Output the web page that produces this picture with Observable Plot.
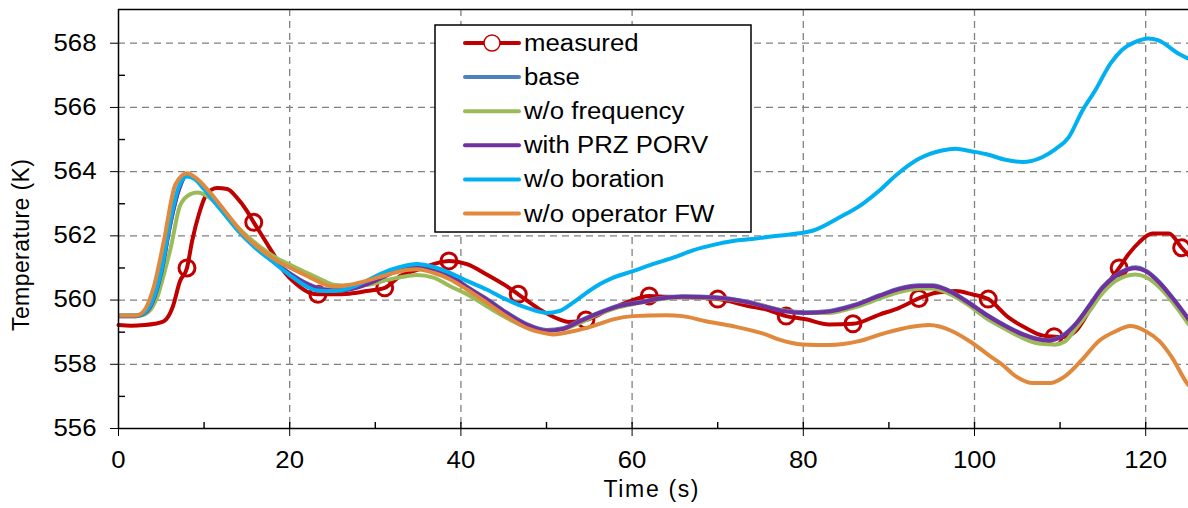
<!DOCTYPE html>
<html><head><meta charset="utf-8">
<script src="https://cdn.jsdelivr.net/npm/d3@7"></script>
<script src="https://cdn.jsdelivr.net/npm/@observablehq/plot@0.6"></script>
<style>html,body{margin:0;padding:0;background:#fff;}#chart{width:1188px;height:508px;}</style>
</head><body><div id="chart"></div>
<script>
// ---- data: [time (s), temperature (K)] ----
const measured = [[0,559.22],[1.5,559.2],[3,559.22],[4.2,559.26],[5.3,559.34],[6.3,559.76],[7.2,560.6],[8.0,561.0],[8.6,561.84],[9.4,562.68],[10.3,563.3],[11.5,563.49],[12.7,563.46],[13.8,563.2],[15.0,562.78],[15.8,562.42],[16.9,561.95],[18.1,561.43],[19.3,560.9],[20.8,560.49],[22.4,560.22],[23.3,560.18],[25.1,560.18],[27,560.2],[29.0,560.28],[31.1,560.38],[32.9,560.75],[34.8,560.93],[36.8,561.12],[38.6,561.22],[40.7,561.12],[43.0,560.8],[45.3,560.44],[46.7,560.18],[49.2,559.71],[51.5,559.4],[52.6,559.32],[54.6,559.38],[57.0,559.66],[59.3,559.92],[62.0,560.13],[64.0,560.1],[67.9,560.07],[70.0,560.03],[73.7,559.81],[75.6,559.71],[78.0,559.5],[80.3,559.4],[83.0,559.24],[85.8,559.26],[88.9,559.55],[91.2,559.76],[93.5,560.05],[95.5,560.23],[97.8,560.28],[99.7,560.18],[101.6,560.03],[104.0,559.45],[106.0,559.13],[107.9,558.9],[109.3,558.86],[110.3,558.85],[111.8,559.03],[113.4,559.66],[114.9,560.28],[116.9,561.0],[118.0,561.43],[119.2,561.79],[120.8,562.07],[122.7,562.07],[124.2,561.63],[125,561.4]];
const measuredMarkerTimes = [8.0,15.8,23.3,31.1,38.6,46.7,54.6,62.0,70.0,78.0,85.8,93.5,101.6,109.3,116.9,124.2];
const measuredMarkerValues = [561.0,562.42,560.18,560.38,561.22,560.18,559.38,560.13,560.03,559.5,559.26,560.05,560.03,558.86,561.0,561.63];
const base = [[0,559.52],[2,559.52],[3,559.6],[4,559.97],[5,560.85],[6,562.3],[7,563.4],[8,563.9],[9,563.8],[10,563.5],[12,562.84],[14,562.2],[16,561.68],[18,561.24],[20,560.84],[22,560.52],[24,560.34],[26,560.32],[28,560.42],[30,560.62],[32,560.87],[34,560.99],[35,561.02],[37,560.95],[39,560.74],[40.7,560.42],[43,560.04],[45.3,559.62],[47.7,559.25],[50,559.07],[51.9,559.12],[53.9,559.36],[56.2,559.62],[58.5,559.83],[60.9,559.94],[63.2,560.06],[65.9,560.12],[69.8,560.09],[73.7,559.94],[77.6,559.68],[80.3,559.62],[83,559.66],[85.7,559.83],[88.9,560.15],[91.2,560.36],[93.5,560.46],[95.1,560.46],[96.6,560.35],[99,559.99],[101.3,559.57],[103.6,559.21],[105.6,558.95],[107.5,558.79],[108.7,558.76],[110.3,558.9],[111.8,559.26],[113.4,559.83],[114.9,560.39],[116.5,560.77],[118,560.98],[118.8,561.02],[120,560.92],[121.6,560.56],[123.1,560.09],[125,559.42]];
const woFrequency = [[0,559.5],[2,559.5],[3,559.55],[4,559.8],[4.5,560.07],[5.3,560.8],[6.1,561.63],[7.2,562.95],[8.4,563.3],[9.2,563.35],[10.3,563.25],[12.7,562.62],[14.6,562.1],[16.6,561.65],[18.5,561.3],[20.4,561.05],[22.4,560.8],[24,560.6],[25.1,560.48],[27,560.45],[29,560.47],[31,560.6],[32.9,560.71],[34.8,560.78],[36.8,560.7],[38.7,560.44],[40.7,560.18],[43.0,559.81],[45.3,559.45],[47.7,559.15],[50,559.05],[52,559.1],[54,559.3],[56,559.55],[58.5,559.78],[61,559.92],[63,560.02],[66,560.08],[70,560.05],[74,559.9],[77.5,559.68],[80,559.6],[83,559.6],[85.7,559.75],[89,560.05],[91.2,560.25],[93.5,560.35],[95,560.36],[96.6,560.25],[99,559.9],[101.3,559.45],[103.6,559.1],[105.6,558.82],[107.5,558.65],[109.5,558.62],[110.5,558.7],[111.8,559.1],[113.4,559.65],[114.9,560.2],[116.5,560.6],[118.8,560.8],[120,560.72],[121.6,560.4],[123.1,559.95],[125,559.25]];
const withPrzPorv = [[0,559.5],[2,559.5],[3,559.58],[4,559.95],[5,560.85],[6,562.3],[7,563.4],[8,563.88],[9,563.78],[10,563.48],[12,562.82],[14,562.18],[16,561.65],[18,561.22],[20,560.82],[22,560.5],[24,560.32],[26,560.3],[28,560.4],[30,560.6],[32,560.85],[34,560.97],[35,561.0],[37,560.93],[39,560.72],[40.7,560.4],[43,560.02],[45.3,559.6],[47.7,559.23],[50,559.05],[51.9,559.1],[53.9,559.34],[56.2,559.6],[58.5,559.81],[60.9,559.92],[63.2,560.04],[65.9,560.1],[69.8,560.07],[73.7,559.92],[77.6,559.66],[80.3,559.6],[83,559.64],[85.7,559.81],[88.9,560.13],[91.2,560.34],[93.5,560.44],[95.1,560.44],[96.6,560.33],[99,559.97],[101.3,559.55],[103.6,559.19],[105.6,558.93],[107.5,558.77],[108.7,558.74],[110.3,558.88],[111.8,559.24],[113.4,559.81],[114.9,560.37],[116.5,560.75],[118,560.96],[118.8,560.99],[120,560.9],[121.6,560.54],[123.1,560.07],[125,559.4]];
const woBoration = [[0,559.52],[2,559.52],[3,559.6],[4,560.0],[5,560.9],[6,562.4],[7,563.5],[8,563.85],[9,563.75],[10,563.45],[12,562.8],[14,562.15],[16,561.62],[18,561.2],[20,560.78],[22,560.42],[23.2,560.3],[25.1,560.28],[27.1,560.38],[29.0,560.6],[30.9,560.85],[32.9,561.03],[34.8,561.12],[36.8,561.03],[38.7,560.85],[40.7,560.6],[43.0,560.33],[45.3,560.02],[47.7,559.76],[50.0,559.6],[51.5,559.66],[53.1,559.92],[54.7,560.23],[56.2,560.49],[57.8,560.7],[60.1,560.9],[62.4,561.12],[64.8,561.32],[67.1,561.55],[69.5,561.72],[71.8,561.84],[74,561.9],[76,561.97],[78,562.03],[79.5,562.08],[81.1,562.16],[84.2,562.57],[86.9,562.99],[88.9,563.41],[90.8,563.88],[93.5,564.4],[96.2,564.66],[97.8,564.71],[99.7,564.63],[101.3,564.55],[103.6,564.37],[105.6,564.3],[107.9,564.45],[109.5,564.71],[111.0,565.07],[112.6,565.9],[114.1,566.53],[115.9,567.37],[117.2,567.78],[118.8,568.04],[120.3,568.15],[121.5,568.09],[123.8,567.68],[125,567.52]];
const woOperatorFW = [[0,559.52],[2,559.52],[2.95,559.66],[4.1,560.39],[5.3,561.84],[6.65,563.6],[8.0,563.95],[9.2,563.77],[10.7,563.35],[12.7,562.68],[14.6,562.05],[16.6,561.58],[18.5,561.22],[20.4,560.96],[22.4,560.7],[25.1,560.42],[27.1,560.48],[29,560.6],[30.9,560.75],[32.9,560.9],[34.8,560.96],[36.8,560.85],[38.7,560.65],[40.7,560.33],[43.0,559.92],[45.3,559.5],[47.7,559.13],[50.0,558.96],[50.8,558.93],[53.1,559.03],[55.4,559.19],[57.8,559.4],[60.1,559.5],[64.0,559.53],[65.9,559.5],[68.6,559.34],[71.7,559.19],[75.6,558.93],[77.2,558.77],[79.9,558.62],[83.0,558.6],[86.5,558.72],[89.6,558.98],[92.7,559.17],[94.7,559.22],[97.4,559.03],[99.7,558.67],[102.1,558.2],[103.2,558.0],[104.8,557.63],[106.7,557.42],[108.9,557.42],[110.6,557.63],[112.6,558.15],[114.5,558.72],[116.5,559.03],[118.2,559.19],[120.0,559.03],[121.6,558.72],[123.1,558.2],[124.8,557.42],[125,557.35]];

const seriesNames = ["measured","base","w/o frequency","with PRZ PORV","w/o boration","w/o operator FW"];
const seriesColors = ["#C00000","#4F81BD","#9BBB59","#7030A0","#00B0F0","#E0893D"];
const seriesData = [measured, base, woFrequency, withPrzPorv, woBoration, woOperatorFW];

const xDomain = [0, 125];
const yDomain = [556, 569.05];
const xTicks = [0,20,40,60,80,100,120];
const xMinorTicks = [10,20,30,40,50,60,70,80,90,100,110,120];
const yTicks = [556,558,560,562,564,566,568];
const yMinorTicks = [557,559,561,563,565,567];
const xTitle = "Time (s)";
const yTitle = "Temperature (K)";

// ---- build ----
const W = 1188, H = 508, mL = 118, mR = 0, mT = 9, mB = 80;
const rows = seriesData.map((pts, i) => pts.map(([t, v]) => ({name: seriesNames[i], t, v})));
const markers = measuredMarkerTimes.map((t, i) => ({t, v: measuredMarkerValues[i]}));
const grid = {stroke: "#808080", strokeDasharray: "7,5", strokeWidth: 1.3, strokeOpacity: 1};

const chart = Plot.plot({
  width: W, height: H,
  marginLeft: mL, marginRight: mR, marginTop: mT, marginBottom: mB,
  style: {fontFamily: "'Liberation Sans', Arial, sans-serif", fontSize: "23px", background: "#fff", color: "#000", overflow: "visible"},
  x: {domain: xDomain, ticks: xTicks, tickSize: 8, tickPadding: 15, label: null},
  y: {domain: yDomain, ticks: yTicks, tickSize: 8, tickPadding: 14, label: null},
  marks: [
    Plot.ruleX(xTicks.filter(d => d > xDomain[0]), grid),
    Plot.ruleY(yTicks.filter(d => d > yDomain[0]), grid),
    Plot.tickX(xMinorTicks, {x: d => d, insetTop: H - mT - mB - 6, stroke: "#000", strokeWidth: 1.4}),
    Plot.tickY(yMinorTicks, {y: d => d, insetRight: W - mL - mR - 7, stroke: "#000", strokeWidth: 1.4}),
    Plot.line(rows[0], {x: "t", y: "v", stroke: seriesColors[0], strokeWidth: 4, curve: "monotone-x"}),
    Plot.dot(markers, {x: "t", y: "v", r: 8, stroke: seriesColors[0], strokeWidth: 3, fill: "none"}),
    ...rows.slice(1).map((r, i) => Plot.line(r, {x: "t", y: "v", stroke: seriesColors[i + 1], strokeWidth: 4, curve: "monotone-x", clip: true})),
    Plot.ruleY([yDomain[0]], {stroke: "#000", strokeWidth: 1.5}),
    Plot.ruleY([yDomain[1]], {stroke: "#000", strokeWidth: 1.5}),
    Plot.ruleX([xDomain[0]], {stroke: "#000", strokeWidth: 1.5})
  ]
});
document.getElementById("chart").append(chart);

// tick labels: reference font is large and slightly wide
chart.querySelectorAll("text").forEach(t => {
  t.style.fontSize = "23px";
  const w = t.getComputedTextLength();
  if (w > 0) { t.setAttribute("textLength", (w * 1.12).toFixed(1)); t.setAttribute("lengthAdjust", "spacingAndGlyphs"); }
});

const svg = d3.select(chart);
// axis titles (spaced like the reference)
svg.append("text").attr("x", 651).attr("y", 497).attr("text-anchor", "middle")
  .style("font-size", "23px").attr("fill", "#000").attr("textLength", 95).attr("lengthAdjust", "spacing").text(xTitle);
svg.append("text").attr("transform", "translate(29,245) rotate(-90)").attr("text-anchor", "middle")
  .style("font-size", "23px").attr("fill", "#000").attr("textLength", 172).attr("lengthAdjust", "spacing").text(yTitle);

// legend
const lg = svg.append("g").attr("text-anchor", "start");
lg.append("rect").attr("x", 435).attr("y", 25).attr("width", 316).attr("height", 207)
  .attr("fill", "#fff").attr("stroke", "#000").attr("stroke-width", 1.5);
seriesNames.forEach((name, i) => {
  const cy = 43 + i * 34.1;
  lg.append("line").attr("x1", 465).attr("x2", 519).attr("y1", cy).attr("y2", cy)
    .attr("stroke", seriesColors[i]).attr("stroke-width", 4).attr("stroke-linecap", "round");
  if (i === 0) lg.append("circle").attr("cx", 492).attr("cy", cy).attr("r", 8)
    .attr("fill", "#fff").attr("stroke", seriesColors[0]).attr("stroke-width", 1.5);
  const t = lg.append("text").attr("x", 524).attr("y", cy + 8).attr("text-anchor", "start")
    .style("font-size", "23px").attr("fill", "#000").text(name);
  const w = t.node().getComputedTextLength();
  t.attr("textLength", (w * 1.12).toFixed(1)).attr("lengthAdjust", "spacingAndGlyphs");
});
</script></body></html>
